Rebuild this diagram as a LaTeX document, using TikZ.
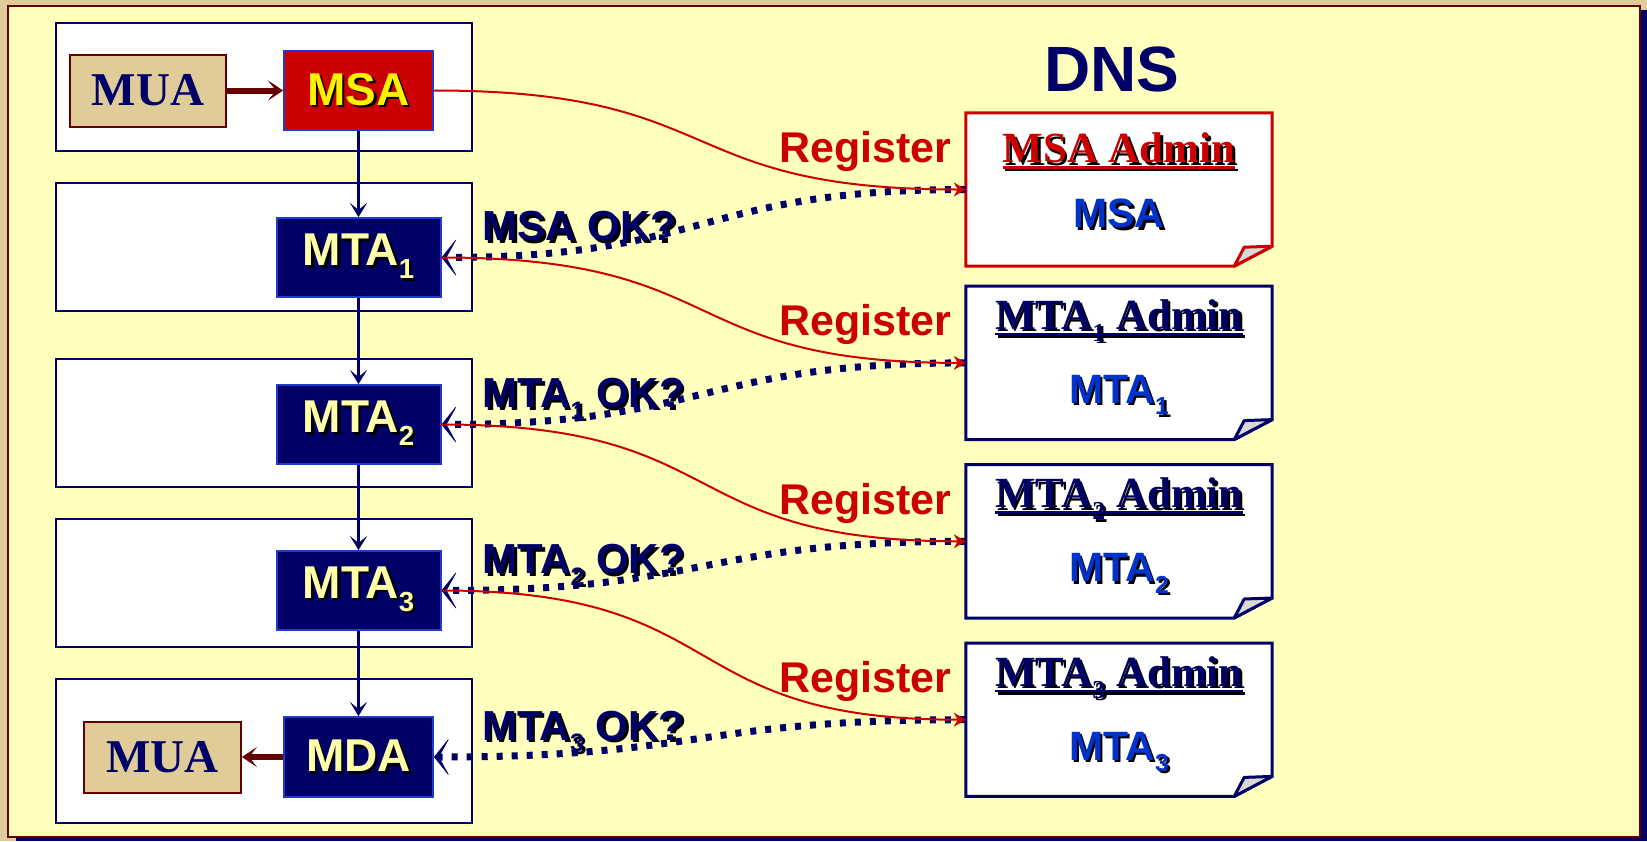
\documentclass[tikz,border=0pt]{standalone}
\usepackage{fontspec}
\setmainfont{Liberation Sans}
\newfontfamily\timesbf{Liberation Serif}
\usepackage{tikz}
\usetikzlibrary{arrows,arrows.meta,positioning}

\definecolor{navy}{RGB}{0,0,102}
\definecolor{boxblue}{RGB}{30,60,204}
\definecolor{txtblue}{RGB}{0,51,204}
\definecolor{dnsred}{RGB}{204,0,0}
\definecolor{maroon}{RGB}{102,0,0}
\definecolor{muatan}{RGB}{224,204,153}
\definecolor{paper}{RGB}{255,255,190}
\definecolor{cream}{RGB}{255,255,170}
\definecolor{flapgray}{RGB}{217,217,217}

% text with a dark drop shadow
\newcommand\shtext[2]{\makebox[0pt][l]{\hspace{2.5pt}\raisebox{-2.5pt}{\color{black}#2}}{\color{#1}#2}}
\newcommand\idx[1]{\raisebox{-0.28em}{\scalebox{0.6}{#1}}}
\newcommand\undl[1]{\setbox0\hbox{#1}\rlap{\rule[-6pt]{\wd0}{2.5pt}}\box0}

\begin{document}
\begin{tikzpicture}[x=1pt,y=-1pt,
  lane/.style={draw=navy,line width=2.5pt,fill=white,minimum width=416pt,minimum height=128pt,inner sep=0pt},
  agent/.style={draw=boxblue,line width=2pt,fill=navy,minimum width=164pt,minimum height=79pt,inner sep=0pt,font=\fontsize{46}{46}\selectfont\bfseries},
  user/.style={draw=maroon,line width=2pt,fill=muatan,minimum width=156pt,minimum height=72pt,inner sep=0pt,text=navy,font=\fontsize{47}{47}\selectfont\timesbf\bfseries},
  dns/.style={minimum width=306pt,minimum height=153pt,inner sep=0pt},
  title/.style={anchor=base,inner sep=0pt,font=\fontsize{43}{43}\selectfont\timesbf\bfseries},
  entry/.style={anchor=base,inner sep=0pt,font=\fontsize{41}{41}\selectfont\bfseries},
  lbl/.style={inner sep=0pt,font=\fontsize{42}{42}\selectfont\bfseries},
  hand/.style={draw=maroon,line width=6pt,-{Stealth[length=15pt,width=20pt,inset=8pt,line width=0.5pt]}},
  flow/.style={draw=navy,line width=3pt,-{Stealth[length=14pt,width=17pt,inset=7pt,line width=0.5pt]}},
  reg/.style={draw=dnsred,line width=2pt,out=0,in=180,looseness=1.4,-{Stealth[length=12pt,width=14pt,inset=4pt,line width=0.5pt]}},
  ask/.style={draw=navy,line width=7pt,dash pattern=on 6pt off 9pt,out=180,in=0,looseness=1.3,-{Stealth[length=16pt,width=40pt,inset=11pt,line width=0.5pt]}}
]
\useasboundingbox (0,0) rectangle (1647,841);
\fill[muatan] (0,0) rectangle (1647,841);
\fill[navy] (16,10) rectangle (1647,841);
\draw[maroon,line width=2.5pt,fill=paper] (8,6) rectangle (1640,837);

% left column
\node	[lane]	(r1)	at (264,87)		{};
\node	[lane]	(r2)	at (264,247)	{};
\node	[lane]	(r3)	at (264,423)	{};
\node	[lane]	(r4)	at (264,583)	{};
\node	[lane,minimum height=144pt]	(r5)	at (264,751)	{};

\node	[agent,fill=dnsred,minimum width=149pt]	(msa)	at (358.5,90.5)	{\shtext{yellow}{MSA}};
\node	[user]	(mua)	[left=56pt of msa]	{MUA};
\node	[agent]	(mta1)	[below=86pt of msa]		{\shtext{cream}{MTA\idx{1}}};
\node	[agent]	(mta2)	[below=86pt of mta1]	{\shtext{cream}{MTA\idx{2}}};
\node	[agent]	(mta3)	[below=85pt of mta2]	{\shtext{cream}{MTA\idx{3}}};
\node	[agent,minimum width=149pt,minimum height=80pt]	(mda)	[below=85pt of mta3]	{\shtext{cream}{MDA}};
\node	[user,minimum width=157pt,minimum height=71pt]	(muab)	[left=41pt of mda]	{MUA};

% DNS side
\node	[dns]	(d1)	at (1119,189.5)		{};
\node	[dns]	(d2)	[below=20pt of d1]	{};
\node	[dns]	(d3)	[below=25pt of d2]	{};
\node	[dns]	(d4)	[below=25pt of d3]	{};

\foreach \b/\c in {d1/dnsred,d2/navy,d3/navy,d4/navy}{
  \draw[draw=\c,line width=3pt,fill=white] (\b.north west) -- (\b.north east) -- ([yshift=20pt]\b.south east)
    -- ([xshift=-38pt]\b.south east) -- (\b.south west) -- cycle;
  \draw[draw=\c,line width=3pt,fill=flapgray,line join=round] ([xshift=-38pt]\b.south east)
    -- ([xshift=-28pt,yshift=19pt]\b.south east) -- ([yshift=20pt]\b.south east) -- cycle;
}

\node	[lbl,text=navy,anchor=base,font=\fontsize{64}{64}\selectfont\bfseries]	(dns)	at ([xshift=-7pt,yshift=21pt]d1.north)	{DNS};

\node	[title]	(t1)	at ([yshift=-50pt]d1.north)	{\shtext{dnsred}{\undl{MSA Admin}}};
\node	[title]	(t2)	at ([yshift=-43pt]d2.north)	{\shtext{navy}{\undl{MTA\idx{1} Admin}}};
\node	[title]	(t3)	at ([yshift=-43pt]d3.north)	{\shtext{navy}{\undl{MTA\idx{2} Admin}}};
\node	[title]	(t4)	at ([yshift=-43pt]d4.north)	{\shtext{navy}{\undl{MTA\idx{3} Admin}}};
\node	[entry]	(e1)	at ([yshift=-115pt]d1.north)	{\shtext{txtblue}{MSA}};
\node	[entry]	(e2)	at ([yshift=-117pt]d2.north)	{\shtext{txtblue}{MTA\idx{1}}};
\node	[entry]	(e3)	at ([yshift=-117pt]d3.north)	{\shtext{txtblue}{MTA\idx{2}}};
\node	[entry]	(e4)	at ([yshift=-117pt]d4.north)	{\shtext{txtblue}{MTA\idx{3}}};

\node	[lbl,text=dnsred,anchor=base east,font=\fontsize{43}{43}\selectfont\bfseries]	(g1)	at ([xshift=-14pt,yshift=27pt]d1.west)	{Register};
\node	[lbl,text=dnsred,anchor=base east,font=\fontsize{43}{43}\selectfont\bfseries]	(g2)	at ([xshift=-14pt,yshift=27pt]d2.west)	{Register};
\node	[lbl,text=dnsred,anchor=base east,font=\fontsize{43}{43}\selectfont\bfseries]	(g3)	at ([xshift=-14pt,yshift=27pt]d3.west)	{Register};
\node	[lbl,text=dnsred,anchor=base east,font=\fontsize{43}{43}\selectfont\bfseries]	(g4)	at ([xshift=-14pt,yshift=27pt]d4.west)	{Register};

\node	[lbl,anchor=base west]	(q1)	at ([xshift=41pt,yshift=17pt]mta1.east)	{\shtext{navy}{MSA OK?}};
\node	[lbl,anchor=base west]	(q2)	at ([xshift=41pt,yshift=17pt]mta2.east)	{\shtext{navy}{MTA\idx{1} OK?}};
\node	[lbl,anchor=base west]	(q3)	at ([xshift=41pt,yshift=17pt]mta3.east)	{\shtext{navy}{MTA\idx{2} OK?}};
\node	[lbl,anchor=base west]	(q4)	at ([xshift=48pt,yshift=17pt]mda.east)	{\shtext{navy}{MTA\idx{3} OK?}};

\path
	(mua)	edge	[hand]	(msa)
	(msa)	edge	[flow]	(mta1)
	(mta1)	edge	[flow]	(mta2)
	(mta2)	edge	[flow]	(mta3)
	(mta3)	edge	[flow]	(mda)
	(mda)	edge	[hand]	(muab)
	(d1)	edge	[ask]	(mta1)
	(d2)	edge	[ask]	(mta2)
	(d3)	edge	[ask]	(mta3)
	(d4)	edge	[ask]	(mda)
	(msa)	edge	[reg]	(d1)
	(mta1)	edge	[reg]	(d2)
	(mta2)	edge	[reg]	(d3)
	(mta3)	edge	[reg]	(d4)
;
\end{tikzpicture}
\end{document}
